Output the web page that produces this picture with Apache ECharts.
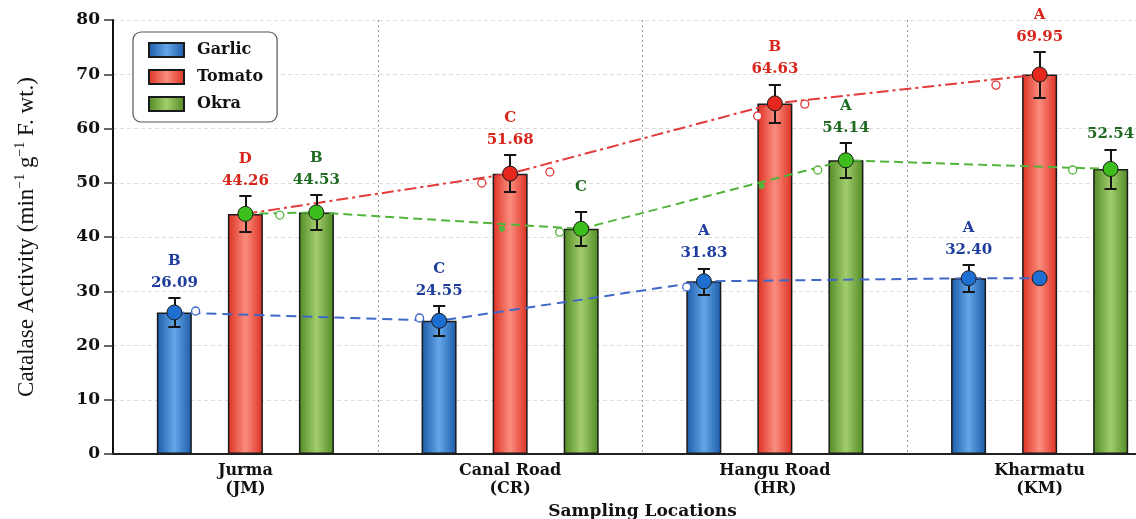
<!DOCTYPE html>
<html>
<head>
<meta charset="utf-8">
<script src="https://cdn.jsdelivr.net/npm/echarts@6/dist/echarts.min.js"></script>
<style>
html,body{margin:0;padding:0;background:#fff;}
#chart{width:1136px;height:519px;}
</style>
</head>
<body>
<div id="chart"></div>
<script>
// ---------------- data ----------------
const categories = ['Jurma\n(JM)', 'Canal Road\n(CR)', 'Hangu Road\n(HR)', 'Kharmatu\n(KM)'];
const seriesNames = ['Garlic', 'Tomato', 'Okra'];
const garlic = [26.09, 24.55, 31.83, 32.40];
const tomato = [44.26, 51.68, 64.63, 69.95];
const okra   = [44.53, 41.50, 54.14, 52.54];
const garlicErr = [2.7, 2.7, 2.4, 2.4];
const tomatoErr = [3.3, 3.4, 3.5, 4.2];
const okraErr   = [3.2, 3.2, 3.2, 3.6];
const garlicLetters = ['B', 'C', 'A', 'A'];
const tomatoLetters = ['D', 'C', 'B', 'A'];
const okraLetters   = ['B', 'C', 'A', ''];
const garlicValueShown = [true, true, true, true];
const tomatoValueShown = [true, true, true, true];
const okraValueShown   = [true, false, true, true];
// marker colour keys at bar tops (tomato at Jurma carries a green marker)
const garlicMarkerKeys = ['b', 'b', 'b', 'b'];
const tomatoMarkerKeys = ['g', 'r', 'r', 'r'];
const okraMarkerKeys   = ['g', 'g', 'g', 'g'];
// extra points: [x in category units, value]
const blueEndDot = [[3.0, 32.40]];
const blueHollow  = [[-0.188, 26.36], [0.658, 25.07], [1.667, 30.78]];
const redHollow   = [[0.893, 49.95], [1.150, 51.98], [1.935, 62.3], [2.113, 64.5], [2.835, 68.0]];
const greenHollow = [[0.130, 44.05], [1.187, 40.9], [2.162, 52.35], [3.125, 52.35]];
const greenSmallDots = [[0.969, 41.5], [1.95, 49.4]];
const yMin = 0, yMax = 80, yStep = 10;

// ---------------- styling ----------------
const groupOffset = [-0.268, 0, 0.268];
const capHalf = 0.023; // cap half-width, category units
const serif = '"DejaVu Serif", "Liberation Serif", serif';
const labelColors = ['#1f3d9c', '#d8261c', '#1f6b22'];
const markerColors = { b: '#1f6fd2', r: '#e5271d', g: '#3cbf1c' };
const lineColors = ['#3f68c8', '#e23b3b', '#52b43a'];

function grad(edge, mid) {
  return new echarts.graphic.LinearGradient(0, 0, 1, 0, [
    { offset: 0, color: edge },
    { offset: 0.5, color: mid },
    { offset: 1, color: edge }
  ]);
}
const barFills = [
  grad('#1b5aa9', '#63a6e8'),
  grad('#dc3022', '#fb8d7e'),
  grad('#4f8a24', '#a3cd6d')
];

const values = [garlic, tomato, okra];
const errs = [garlicErr, tomatoErr, okraErr];
const letters = [garlicLetters, tomatoLetters, okraLetters];
const shown = [garlicValueShown, tomatoValueShown, okraValueShown];
const markerKeys = [garlicMarkerKeys, tomatoMarkerKeys, okraMarkerKeys];

// error bar segments and labels
const errSegments = [];
const labelSeries = [];
for (let s = 0; s < 3; s++) {
  const labData = [];
  for (let i = 0; i < categories.length; i++) {
    const x = i + groupOffset[s], v = values[s][i], e = errs[s][i];
    errSegments.push({ coords: [[x, v - e], [x, v + e]] });
    errSegments.push({ coords: [[x - capHalf, v + e], [x + capHalf, v + e]] });
    errSegments.push({ coords: [[x - capHalf, v - e], [x + capHalf, v - e]] });
    const L = letters[s][i], N = shown[s][i] ? v.toFixed(2) : '';
    let txt, dist = 4;
    if (L && N) txt = '{t|' + L + '}\n{t|' + N + '}';
    else if (L) { txt = '{t|' + L + '}'; dist = 13; }
    else txt = '{t|' + N + '}';
    labData.push({ value: [x, v + e], label: { formatter: txt, distance: dist } });
  }
  labelSeries.push({
    type: 'scatter', xAxisIndex: 1, data: labData, symbolSize: 0, z: 7, silent: true,
    itemStyle: { color: 'rgba(0,0,0,0)', opacity: 1 },
    label: { show: true, position: 'top', opacity: 1,
      rich: { t: { fontFamily: serif, fontWeight: 'bold', fontSize: 15, color: labelColors[s], lineHeight: 22, align: 'center' } } }
  });
}

const markerData = [];
for (let s = 0; s < 3; s++) {
  for (let i = 0; i < categories.length; i++) {
    markerData.push({ value: [i + groupOffset[s], values[s][i]],
      itemStyle: { color: markerColors[markerKeys[s][i]] } });
  }
}
blueEndDot.forEach(p => markerData.push({ value: p, itemStyle: { color: markerColors.b } }));

const blueLine = garlic.map((v, i) => [i + groupOffset[0], v]).concat(blueEndDot);
const redLine = tomato.map((v, i) => [i, v]);
const greenLine = [[0, tomato[0]]].concat(okra.map((v, i) => [i + groupOffset[2], v]));

const chart = echarts.init(document.getElementById('chart'), null, { renderer: 'canvas' });
const barSeries = seriesNames.map((n, s) => ({
  name: n, type: 'bar', xAxisIndex: 0, yAxisIndex: 0,
  data: values[s], barWidth: 35, barGap: '103%', z: 2,
  itemStyle: { color: barFills[s], borderColor: '#1a1a1a', borderWidth: 1.5 },
  emphasis: { disabled: true }
}));

const option = {
  animation: false,
  backgroundColor: '#fff',
  grid: { left: 113, right: -36, top: 20, bottom: 65, containLabel: false, outerBoundsMode: 'none' },
  legend: {
    data: seriesNames.map(n => ({ name: n, icon: 'rect' })), orient: 'vertical', left: 133, top: 32,
    itemWidth: 35, itemHeight: 14, itemGap: 11,
    padding: [10, 14, 10, 15],
    borderColor: '#555', borderWidth: 1.2, borderRadius: 8,
    backgroundColor: '#fff',
    textStyle: { fontFamily: serif, fontWeight: 'bold', fontSize: 16, color: '#111', lineHeight: 16, padding: [0, 0, 0, 8] }
  },
  xAxis: [{
    type: 'category', data: categories, gridIndex: 0,
    axisLine: { onZero: false, lineStyle: { color: '#222', width: 2 } },
    axisTick: { show: false },
    axisLabel: { fontFamily: serif, fontWeight: 'bold', fontSize: 16, color: '#111', lineHeight: 18, margin: 8 },
    splitLine: { show: true, lineStyle: { color: '#999', type: [2, 3], width: 1 } },
    name: 'Sampling Locations', nameLocation: 'middle', nameGap: 48,
    nameTextStyle: { fontFamily: serif, fontWeight: 'bold', fontSize: 17, color: '#111' }
  }, {
    type: 'value', min: -0.5, max: 3.5, show: false, gridIndex: 0,
    axisLine: { show: false, onZero: false }, axisTick: { show: false }, axisLabel: { show: false }, splitLine: { show: false }
  }],
  yAxis: {
    type: 'value', min: yMin, max: yMax, interval: yStep,
    axisLine: { show: true, onZero: false, lineStyle: { color: '#111', width: 2 } },
    axisTick: { show: true, length: 9, lineStyle: { color: '#333', width: 1.5 } },
    axisLabel: { fontFamily: serif, fontWeight: 'bold', fontSize: 17, color: '#111', margin: 13 },
    splitLine: { show: true, lineStyle: { color: '#ddd', type: [4, 3], width: 1 } },
    name: '{a|Catalase Activity (min}{s|−1}{a| g}{s|−1}{a| F. wt.)}',
    nameLocation: 'middle', nameGap: 72, nameRotate: 90,
    nameTextStyle: {
      rich: {
        a: { fontFamily: '"Liberation Serif", serif', fontSize: 23, color: '#111', lineHeight: 28 },
        s: { fontFamily: '"Liberation Serif", serif', fontSize: 14, color: '#111', lineHeight: 28, verticalAlign: 'top', padding: [0, 0, 10, 0] }
      }
    }
  },
  series: barSeries.concat([
    { type: 'line', xAxisIndex: 1, data: blueLine, symbol: 'none', z: 3, silent: true,
      lineStyle: { color: lineColors[0], width: 2, type: [10, 6] } },
    { type: 'line', xAxisIndex: 1, data: redLine, symbol: 'none', z: 3, silent: true,
      lineStyle: { color: lineColors[1], width: 2, type: [12, 4, 3, 4] } },
    { type: 'line', xAxisIndex: 1, data: greenLine, symbol: 'none', z: 3, silent: true,
      lineStyle: { color: lineColors[2], width: 2, type: [9, 5] } },
    { type: 'scatter', xAxisIndex: 1, data: blueHollow, symbolSize: 8, z: 4, silent: true,
      itemStyle: { color: '#fff', borderColor: lineColors[0], borderWidth: 1.3, opacity: 1 } },
    { type: 'scatter', xAxisIndex: 1, data: redHollow, symbolSize: 8, z: 4, silent: true,
      itemStyle: { color: '#fff', borderColor: lineColors[1], borderWidth: 1.3, opacity: 1 } },
    { type: 'scatter', xAxisIndex: 1, data: greenHollow, symbolSize: 8, z: 4, silent: true,
      itemStyle: { color: '#fff', borderColor: lineColors[2], borderWidth: 1.3, opacity: 1 } },
    { type: 'scatter', xAxisIndex: 1, data: greenSmallDots, symbolSize: 6, z: 4, silent: true,
      itemStyle: { color: lineColors[2], opacity: 1 } },
    { type: 'lines', coordinateSystem: 'cartesian2d', xAxisIndex: 1, yAxisIndex: 0,
      data: errSegments, z: 5, silent: true, symbol: 'none',
      lineStyle: { color: '#151515', width: 2, opacity: 1, curveness: 0 } },
    { type: 'scatter', xAxisIndex: 1, data: markerData, symbolSize: 15, z: 6, silent: true,
      itemStyle: { borderColor: '#1a1a1a', borderWidth: 1, opacity: 1 } }
  ]).concat(labelSeries)
};
chart.setOption(option);
</script>
</body>
</html>
